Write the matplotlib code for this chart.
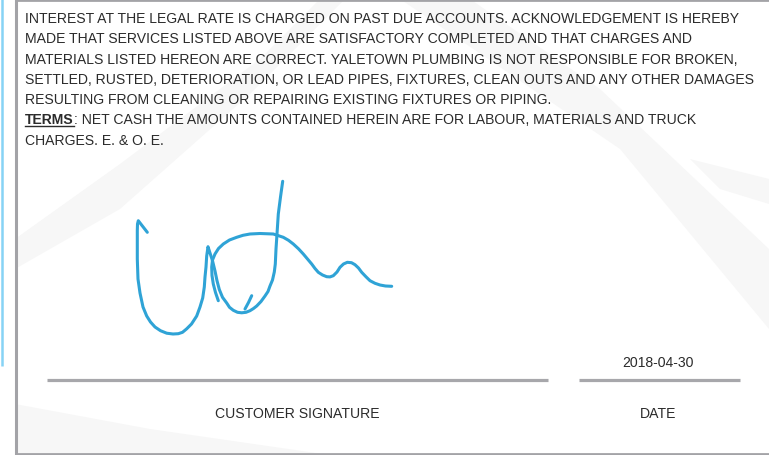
import matplotlib
matplotlib.use('Agg')
import matplotlib.pyplot as plt
from matplotlib.patches import Polygon

# terms text, one entry per printed line
terms_lines = [
    'INTEREST AT THE LEGAL RATE IS CHARGED ON PAST DUE ACCOUNTS. ACKNOWLEDGEMENT IS HEREBY',
    'MADE THAT SERVICES LISTED ABOVE ARE SATISFACTORY COMPLETED AND THAT CHARGES AND',
    'MATERIALS LISTED HEREON ARE CORRECT. YALETOWN PLUMBING IS NOT RESPONSIBLE FOR BROKEN,',
    'SETTLED, RUSTED, DETERIORATION, OR LEAD PIPES, FIXTURES, CLEAN OUTS AND ANY OTHER DAMAGES',
    'RESULTING FROM CLEANING OR REPAIRING EXISTING FIXTURES OR PIPING.',
]
terms_head = 'TERMS'
terms_rest = [': NET CASH THE AMOUNTS CONTAINED HEREIN ARE FOR LABOUR, MATERIALS AND TRUCK',
              'CHARGES. E. & O. E.']

sign_label = 'CUSTOMER SIGNATURE'
date_label = 'DATE'
date_value = '2018-04-30'

# signature strokes (pixel coords of the scanned form)
stroke1_x = [147.3, 142, 138.3, 137.5, 137.3, 137.3, 138, 140, 143, 146.7, 150.5, 155, 160.5, 166.7, 173, 178.3,
             182.5, 186.7, 191.5, 196.7, 200, 202.7, 204.3, 205, 206, 206.7,
             208, 210, 212.5, 215, 217, 219.3, 222.5, 226.7, 229.5, 233.3, 237.5, 241.7, 246, 250, 253.5,
             256.7, 261, 265, 268, 270, 272.5, 274.3, 275.3, 276, 277, 278.3, 280.5, 282.7]
stroke1_y = [233.3, 226.5, 221.7, 225, 231.7, 260, 280, 294, 308, 317, 323, 328, 331.7, 334.2, 335, 334.7, 333.3,
             329.8, 325, 317, 308, 299, 288, 278, 268, 257, 247.7,
             254, 261.7, 272, 281.7, 290.5, 298.3, 304, 308.3, 311.3, 313.3, 313.8, 313.3, 311.7, 309.5,
             307, 302.5, 297, 292.5, 287, 281, 273, 265, 250, 235, 215, 198, 182.3]
stroke2_x = [218.3, 215.5, 213.3, 212, 211.7, 212.5, 215, 218.5, 223.3, 229.5, 236.7, 243, 250, 260, 273.3,
             283.3, 288.5, 293.3, 298.5, 303.3, 307.5, 311.7, 315, 318.3, 322.5, 326.7, 330, 333.3, 337,
             340, 343.5, 347.3, 351.5, 355, 358.5, 361.7, 366, 370, 375, 380, 385.5, 391.7]
stroke2_y = [301.7, 293.5, 285, 276.5, 268, 261, 255, 249.5, 245, 241, 238.3, 236.3, 235, 234.5, 235,
             238.3, 241.3, 245, 249.8, 255, 260, 265, 269.5, 273.3, 276, 277.7, 277.9, 276.7, 273,
             268.3, 265, 263.3, 263.7, 265.7, 269, 273.3, 277.8, 281.7, 284.3, 286, 287, 287.3]
stroke3_x = [251.7, 248.5, 245]
stroke3_y = [296.7, 303.5, 310]

text_color = '#2b2b2b'
ink = '#2fa3d6'
rule = '#a7a7ab'

fig = plt.figure(figsize=(7.69, 4.56), dpi=100)
ax = fig.add_axes([0, 0, 1, 1])
ax.set_xlim(0, 769)
ax.set_ylim(456, 0)
ax.axis('off')

# faint background swooshes
swooshes = [
    [(400, 0), (470, 0), (600, 90), (769, 250), (769, 330), (620, 150)],
    [(15, 240), (120, 165), (260, 60), (320, 0), (345, 0), (250, 95), (120, 210), (15, 270)],
    [(15, 405), (150, 430), (330, 456), (15, 456)],
    [(690, 160), (769, 180), (769, 205), (720, 190)],
]
for pts in swooshes:
    ax.add_patch(Polygon(pts, closed=True, facecolor='#f7f7f7', edgecolor='none', zorder=0))

# borders
ax.plot([2, 2], [0, 367], color='#86d3f5', lw=1.8, solid_capstyle='butt')
ax.plot([15.5, 15.5], [0, 456], color='#a3a3a7', lw=2.2, solid_capstyle='butt')
ax.plot([15, 769], [1, 1], color='#a3a3a7', lw=2.0, solid_capstyle='butt')
ax.plot([15, 769], [455, 455], color='#a3a3a7', lw=2.0, solid_capstyle='butt')

fs = 10.1
font = 'Liberation Sans'
y0 = 23
dy = 20.3
for i, line in enumerate(terms_lines):
    ax.text(25, y0 + i * dy, line, fontsize=fs, family=font, color=text_color, va='baseline')

fig.canvas.draw()
r = fig.canvas.get_renderer()
yt = y0 + 5 * dy
t = ax.text(25, yt, terms_head, fontsize=fs, family=font, color=text_color, va='baseline', fontweight='bold')
bb = t.get_window_extent(renderer=r)
x_end = 25 + bb.width
ax.plot([25, x_end], [yt + 2.5, yt + 2.5], color=text_color, lw=1.0)
ax.text(x_end, yt, terms_rest[0], fontsize=fs, family=font, color=text_color, va='baseline')
ax.text(25, yt + dy, terms_rest[1], fontsize=fs, family=font, color=text_color, va='baseline')

# signature
for xs, ys in [(stroke1_x, stroke1_y), (stroke2_x, stroke2_y), (stroke3_x, stroke3_y)]:
    ax.plot(xs, ys, color=ink, lw=2.2, solid_capstyle='round', solid_joinstyle='round')

# rules and captions
ax.plot([47, 548], [381, 381], color=rule, lw=2.3, solid_capstyle='butt')
ax.plot([579, 740], [381, 381], color=rule, lw=2.3, solid_capstyle='butt')
ax.text(297, 414, sign_label, fontsize=fs, family=font, color=text_color, ha='center', va='center')
ax.text(658, 414, date_label, fontsize=fs, family=font, color=text_color, ha='center', va='center')
ax.text(658, 363, date_value, fontsize=fs, family=font, color=text_color, ha='center', va='center')

fig.savefig('out.png', dpi=100)
